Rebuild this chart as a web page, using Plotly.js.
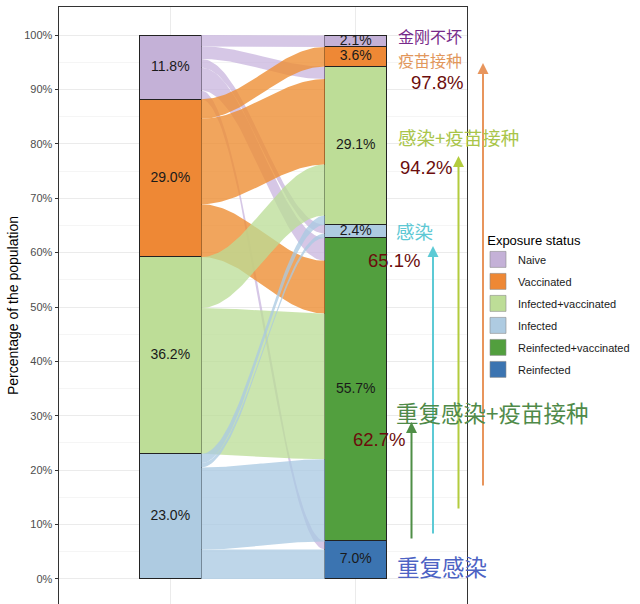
<!DOCTYPE html>
<html><head><meta charset="utf-8">
<script src="https://cdn.plot.ly/plotly-3.0.1.min.js"></script>
<style>html,body{margin:0;padding:0;background:#fff}</style>
</head><body><div id="chart" style="width:640px;height:604px"></div>
<script>
// ---------- data ----------
const categories = ['Naive', 'Vaccinated', 'Infected+vaccinated', 'Infected', 'Reinfected+vaccinated', 'Reinfected'];
const timepoints = [1, 2];
const leftValues = [11.8, 29.0, 36.2, 23.0, null, null];
const rightValues = [2.1, 3.6, 29.1, 2.4, 55.7, 7.0];
const flowFrom = ['Naive', 'Naive', 'Naive', 'Naive', 'Naive',
  'Vaccinated', 'Vaccinated', 'Vaccinated',
  'Infected+vaccinated', 'Infected+vaccinated',
  'Infected', 'Infected', 'Infected', 'Infected'];
const flowTo = ['Naive', 'Infected+vaccinated', 'Infected', 'Reinfected+vaccinated', 'Reinfected',
  'Vaccinated', 'Infected+vaccinated', 'Reinfected+vaccinated',
  'Infected+vaccinated', 'Reinfected+vaccinated',
  'Infected+vaccinated', 'Infected', 'Reinfected+vaccinated', 'Reinfected'];
const flowValues = [2.1, 2.3, 1.6, 4.2, 1.6,
  3.6, 15.7, 9.7,
  9.4, 26.8,
  1.7, 0.8, 15.1, 5.4];
const yTickValues = [0, 10, 20, 30, 40, 50, 60, 70, 80, 90, 100];
const yMinorValues = [5, 15, 25, 35, 45, 55, 65, 75, 85, 95];

// ---------- style ----------
const strataColors = ['#c4b1d7', '#ee8835', '#bddd97', '#aecbe1', '#529f3e', '#3b74b1'];
const flowColors = ['rgba(198,178,220,0.72)', 'rgba(238,142,52,0.80)', 'rgba(186,221,150,0.76)', 'rgba(170,201,226,0.76)'];
const barWidth = 1 / 3;

// ---------- stacking ----------
function stackRanges(vals) {
  const r = new Array(vals.length);
  let base = 0;
  for (let i = vals.length - 1; i >= 0; i--) {
    const v = vals[i];
    if (v == null) { r[i] = null; continue; }
    r[i] = [base, base + v];
    base += v;
  }
  return r;
}
const leftRanges = stackRanges(leftValues);
const rightRanges = stackRanges(rightValues);

const idx = c => categories.indexOf(c);
const n = flowValues.length;
const lodeL = new Array(n), lodeR = new Array(n);
categories.forEach((c, ci) => {
  if (leftRanges[ci]) {
    let top = leftRanges[ci][1];
    const out = [];
    for (let k = 0; k < n; k++) if (flowFrom[k] === c) out.push(k);
    out.sort((a, b) => idx(flowTo[a]) - idx(flowTo[b]));
    out.forEach(k => { lodeL[k] = [top - flowValues[k], top]; top -= flowValues[k]; });
  }
  if (rightRanges[ci]) {
    let top = rightRanges[ci][1];
    const inc = [];
    for (let k = 0; k < n; k++) if (flowTo[k] === c) inc.push(k);
    inc.sort((a, b) => idx(flowFrom[a]) - idx(flowFrom[b]));
    inc.forEach(k => { lodeR[k] = [top - flowValues[k], top]; top -= flowValues[k]; });
  }
});

const traces = [];
const x0 = timepoints[0] + barWidth / 2, x1 = timepoints[1] - barWidth / 2;
const NP = 60;
for (let k = 0; k < n; k++) {
  const xs = [], ys = [];
  for (let j = 0; j <= NP; j++) {
    const t = j / NP, s = (1 - Math.cos(Math.PI * t)) / 2;
    xs.push(x0 + (x1 - x0) * t);
    ys.push(lodeL[k][1] + (lodeR[k][1] - lodeL[k][1]) * s);
  }
  for (let j = NP; j >= 0; j--) {
    const t = j / NP, s = (1 - Math.cos(Math.PI * t)) / 2;
    xs.push(x0 + (x1 - x0) * t);
    ys.push(lodeL[k][0] + (lodeR[k][0] - lodeL[k][0]) * s);
  }
  traces.push({
    type: 'scatter', mode: 'lines', x: xs, y: ys, fill: 'toself',
    fillcolor: flowColors[idx(flowFrom[k])], line: {width: 0},
    hoverinfo: 'skip', showlegend: false
  });
}
for (let i = categories.length - 1; i >= 0; i--) {
  traces.push({
    type: 'bar', x: timepoints, y: [leftValues[i], rightValues[i]], width: barWidth,
    marker: {color: strataColors[i], line: {color: '#222', width: 1}},
    showlegend: false, hoverinfo: 'skip'
  });
}
const lx = [], ly = [], lt = [];
categories.forEach((c, i) => {
  if (leftRanges[i]) { lx.push(timepoints[0]); ly.push((leftRanges[i][0] + leftRanges[i][1]) / 2); lt.push(leftValues[i].toFixed(1) + '%'); }
  if (rightRanges[i]) { lx.push(timepoints[1]); ly.push((rightRanges[i][0] + rightRanges[i][1]) / 2); lt.push(rightValues[i].toFixed(1) + '%'); }
});
traces.push({
  type: 'scatter', mode: 'text', x: lx, y: ly, text: lt,
  textfont: {family: 'Liberation Sans, Arial, sans-serif', size: 14, color: '#1a1a1a'},
  hoverinfo: 'skip', showlegend: false, cliponaxis: false
});
categories.forEach((c, i) => {
  traces.push({
    type: 'scatter', mode: 'markers', x: [null], y: [null], name: c, legendgroup: 'g' + i,
    marker: {symbol: 'square', size: 16, color: strataColors[i], line: {color: '#8c8c8c', width: 0.6}},
    hoverinfo: 'skip'
  });
});

// ---------- overlay annotations (pixel helpers) ----------
const ML = 59, MT = 7, PW = 408, PH = 597;
const fx = px => (px - ML) / PW;
const fy = py => (MT + PH - py) / PH;
const CJK = 'Noto Sans CJK SC, sans-serif';
const LAT = 'Liberation Sans, Arial, sans-serif';
function txt(t, left, cy, size, color, fam) {
  return {text: t, x: fx(left), y: fy(cy), xref: 'paper', yref: 'paper', xanchor: 'left', yanchor: 'middle',
    showarrow: false, font: {family: fam || CJK, size: size, color: color}, borderpad: 0};
}
function arrow(hx, hy, ty, color) {
  return {text: '', x: fx(hx), y: fy(hy), xref: 'paper', yref: 'paper', ax: 0, ay: ty - hy,
    axref: 'pixel', ayref: 'pixel', showarrow: true, arrowhead: 2, arrowsize: 1.1, arrowwidth: 2,
    arrowcolor: color, standoff: 0};
}
const darkRed = '#6b0c0c';
const annotations = [
  arrow(483, 63, 487, '#e8955c'),
  arrow(458.5, 156, 510, '#b3cc3e'),
  arrow(433, 246, 535, '#5ccad5'),
  arrow(411.5, 422, 540, '#4f8e46'),
  txt('金刚不坏', 397, 36.5, 16, '#772a8a'),
  txt('疫苗接种', 397, 59.7, 16, '#e2975c'),
  txt('97.8%', 410, 82.5, 18.5, darkRed, LAT),
  txt('感染+疫苗接种', 397, 137, 18.5, '#a9c54a'),
  txt('94.2%', 399, 167, 18.5, darkRed, LAT),
  txt('感染', 395, 231, 18.5, '#5ec8d4'),
  txt('65.1%', 367, 260.5, 18.5, darkRed, LAT),
  txt('重复感染+疫苗接种', 395, 411.5, 22.5, '#4f8a49'),
  txt('62.7%', 352, 439.5, 18.5, darkRed, LAT),
  txt('重复感染', 396, 566, 22.5, '#4d63c4')
];

const layout = {
  width: 640, height: 604,
  margin: {l: ML, r: 640 - ML - PW, t: MT, b: 0, pad: 0},
  paper_bgcolor: '#fff', plot_bgcolor: '#fff',
  barmode: 'stack', bargap: 0,
  font: {family: LAT},
  xaxis: {range: [0.4, 2.6], tickvals: timepoints, showticklabels: false, ticks: '',
    showgrid: true, gridcolor: '#ebebeb', gridwidth: 1, zeroline: false,
    showline: true, mirror: true, linecolor: '#333', linewidth: 1, fixedrange: true},
  yaxis: {range: [-4.6, 105.15], tickvals: yTickValues, ticktext: yTickValues.map(v => v + '%'),
    ticks: 'outside', ticklen: 3.5, tickcolor: '#333', tickwidth: 1,
    tickfont: {size: 11, color: '#4d4d4d'},
    showgrid: true, gridcolor: '#ebebeb', gridwidth: 1,
    minor: {tickvals: yMinorValues, showgrid: true, gridcolor: '#f5f5f5', gridwidth: 1, ticks: ''},
    zeroline: false, showline: true, mirror: true, linecolor: '#333', linewidth: 1,
    title: {text: 'Percentage of the population', font: {size: 14, color: '#000'}, standoff: 2},
    fixedrange: true},
  showlegend: true,
  legend: {x: fx(478), y: fy(228), xanchor: 'left', yanchor: 'top', xref: 'paper', yref: 'paper',
    title: {text: '\u00a0\u00a0Exposure status', font: {size: 13, color: '#000'}},
    font: {size: 11, color: '#1a1a1a'}, traceorder: 'grouped', tracegroupgap: 3,
    bgcolor: 'rgba(0,0,0,0)', borderwidth: 0},
  annotations: annotations
};
Plotly.newPlot('chart', traces, layout, {staticPlot: true, displayModeBar: false});
</script></body></html>
